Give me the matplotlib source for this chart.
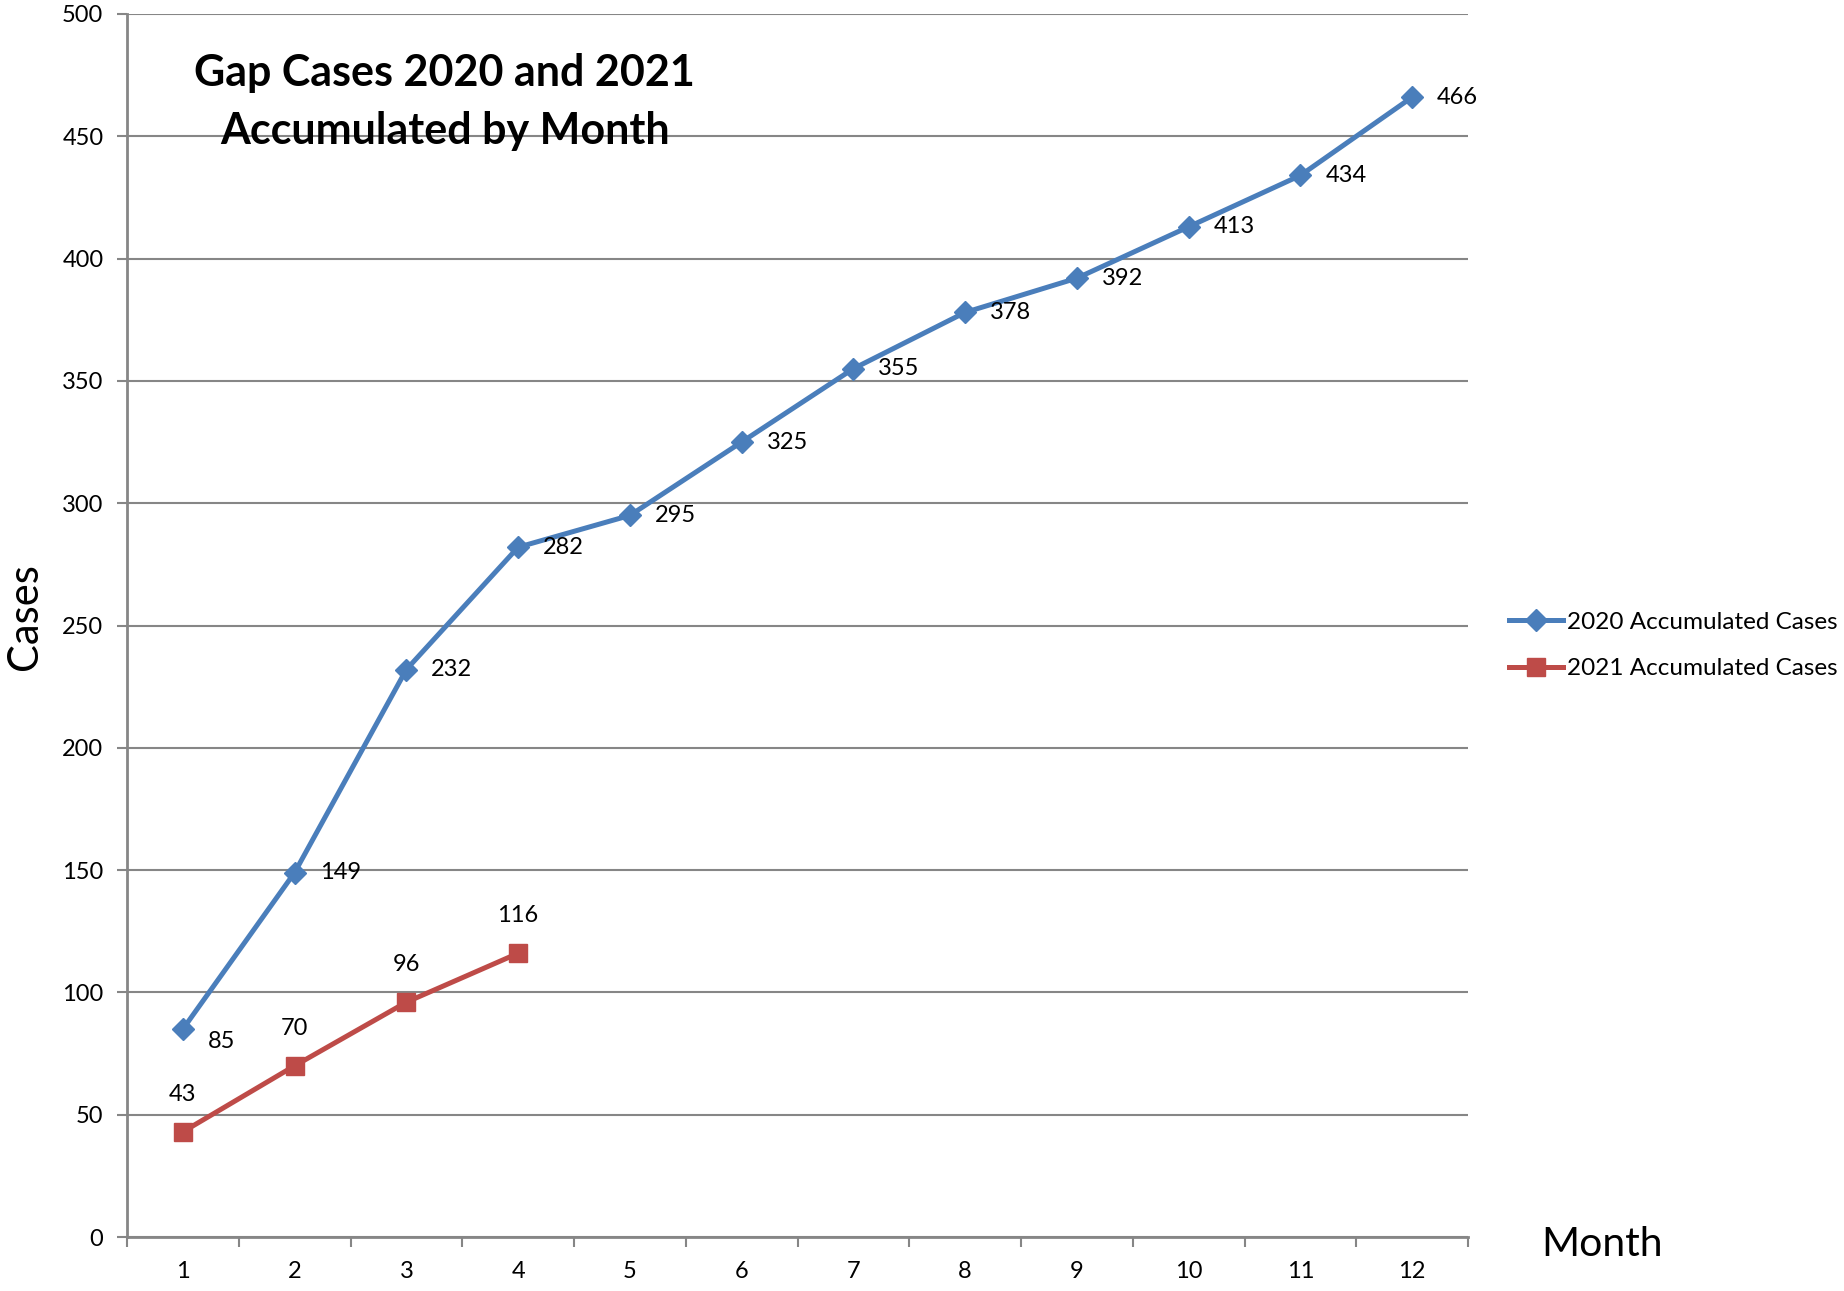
import matplotlib
matplotlib.use("Agg")
import matplotlib.pyplot as plt
import numpy as np

months = [1, 2, 3, 4, 5, 6, 7, 8, 9, 10, 11, 12]
cases_2020 = [85, 149, 232, 282, 295, 325, 355, 378, 392, 413, 434, 466]
months_2021 = [1, 2, 3, 4]
cases_2021 = [43, 70, 96, 116]
series_names = ["2020 Accumulated Cases", "2021 Accumulated Cases"]
y_ticks = [0, 50, 100, 150, 200, 250, 300, 350, 400, 450, 500]

plt.rcParams['font.family'] = ['Lato', 'DejaVu Sans']

BLUE = "#4A7EBB"
RED = "#BE4B48"
GRID = "#868686"
FS = 17

fig = plt.figure(figsize=(18.44, 12.91), dpi=100)
ax = fig.add_axes([127/1844, 1 - 1237/1291, (1468-127)/1844, (1237-14)/1291])

ax.plot(months, cases_2020, color=BLUE, lw=3.6, marker='D', markersize=11,
        label=series_names[0], zorder=3)
ax.plot(months_2021, cases_2021, color=RED, lw=3.6, marker='s', markersize=13,
        label=series_names[1], zorder=3)

for i, (m, v) in enumerate(zip(months, cases_2020)):
    dy = -9 if i == 0 else 0
    ax.annotate(str(v), (m, v), xytext=(18, dy), textcoords='offset points',
                ha='left', va='center', fontsize=FS)
for m, v in zip(months_2021, cases_2021):
    ax.annotate(str(v), (m, v), xytext=(0, 27), textcoords='offset points',
                ha='center', va='center', fontsize=FS)

ax.set_xlim(0.5, 12.5)
ax.set_ylim(0, 500)
ax.set_yticks(y_ticks)
ax.set_xticks(months)
ax.set_xticks(np.arange(0.5, 13, 1), minor=True)
ax.tick_params(axis='x', which='major', length=0, pad=17, labelsize=FS)
ax.tick_params(axis='x', which='minor', length=7, width=1.5, color=GRID, direction='out')
ax.tick_params(axis='y', length=7, width=1.5, color=GRID, pad=10, labelsize=FS)

ax.grid(axis='y', color=GRID, lw=1.5)
ax.set_axisbelow(True)
for s in ['top', 'right']:
    ax.spines[s].set_visible(False)
for s in ['left', 'bottom']:
    ax.spines[s].set_color(GRID)
    ax.spines[s].set_linewidth(2)

ax.text(0.237, 0.928, "Gap Cases 2020 and 2021\nAccumulated by Month",
        transform=ax.transAxes, ha='center', va='center', fontsize=31,
        fontweight='bold', linespacing=1.55)

fig.text(25/1844, 1 - 617/1291, "Cases", rotation=90, ha='center', va='center', fontsize=30)
fig.text(1602/1844, 1 - 1244/1291, "Month", ha='center', va='center', fontsize=29.5)

fig.legend(loc='center left', bbox_to_anchor=(0.812, 0.5), frameon=False,
           fontsize=17.5, handlelength=2.2, handletextpad=0.15, labelspacing=1.05,
           borderpad=0)

fig.savefig("out.png", dpi=100)
